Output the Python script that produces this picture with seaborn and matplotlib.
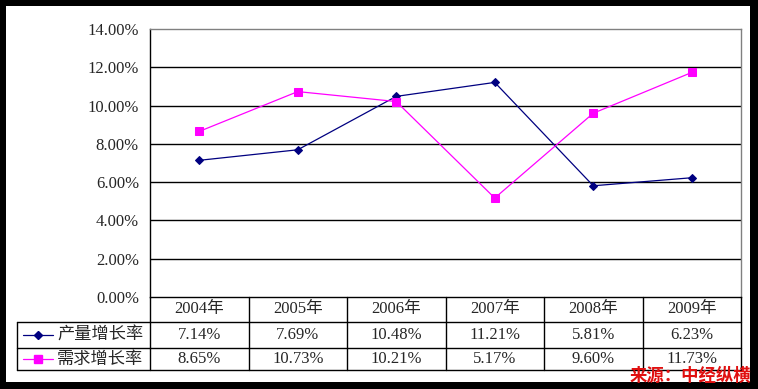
import pandas as pd
import matplotlib.pyplot as plt
import seaborn as sns
from matplotlib.patches import Rectangle
from matplotlib.ticker import FuncFormatter

sns.set_style("white")
plt.rcParams['font.family'] = ['Liberation Serif', 'Noto Sans CJK SC', 'DejaVu Sans']

# -------------------------------
# data
# -------------------------------
years = ["2004年", "2005年", "2006年", "2007年", "2008年", "2009年"]
series_names = ["产量增长率", "需求增长率"]
output_growth = [7.14, 7.69, 10.48, 11.21, 5.81, 6.23]
demand_growth = [8.65, 10.73, 10.21, 5.17, 9.60, 11.73]
colors = {"产量增长率": "#000080", "需求增长率": "#FF00FF"}

df = pd.DataFrame({
    "pos": list(range(len(years))) * 2,
    "value": output_growth + demand_growth,
    "series": [series_names[0]] * len(years) + [series_names[1]] * len(years),
})

W, H = 758, 389
fig = plt.figure(figsize=(W / 100, H / 100), dpi=100)
fig.patch.set_facecolor("black")
fig.add_artist(Rectangle((6 / W, 1 - 382 / H), (750 - 6) / W, (382 - 6) / H,
                         transform=fig.transFigure, facecolor="white",
                         edgecolor="none", zorder=-10))

# plot area in pixels
pl, pr, pt, pb = 150, 741, 29, 297
ax = fig.add_axes([pl / W, 1 - pb / H, (pr - pl) / W, (pb - pt) / H])
ax.set_facecolor("white")

for name, mk, ms in [(series_names[0], "D", 4.5), (series_names[1], "s", 6)]:
    sub = df[df["series"] == name]
    sns.lineplot(data=sub, x="pos", y="value", ax=ax, color=colors[name],
                 marker=mk, markersize=ms, markeredgecolor=colors[name],
                 linewidth=0.9, legend=False)

ax.set_xlim(-0.5, len(years) - 0.5)
ax.set_ylim(0, 14)
ax.set_yticks(range(0, 15, 2))
ax.yaxis.set_major_formatter(FuncFormatter(lambda v, p: f"{v:.2f}%"))
ax.set_xticks([])
ax.set_xlabel("")
ax.set_ylabel("")
ax.tick_params(axis="y", length=0, pad=8, labelsize=12)
for v in range(2, 14, 2):
    ax.axhline(v, color="black", linewidth=1, zorder=0)
for s in ["top", "right"]:
    ax.spines[s].set_color("#808080")
for s in ["left", "bottom"]:
    ax.spines[s].set_color("black")
for s in ax.spines.values():
    s.set_linewidth(1)

# -------------------------------
# data table
# -------------------------------
tt, tb = 297, 370
tab = fig.add_axes([pl / W, 1 - tb / H, (pr - pl) / W, (tb - tt) / H])
tab.set_xlim(-0.5, len(years) - 0.5)
tab.set_ylim(tb, tt)
tab.axis("off")
colw = (pr - pl) / len(years)


def px2x(px):
    return -0.5 + (px - pl) / colw


r1, r2 = 322, 348
xl = px2x(17)
for k in range(len(years) + 1):
    tab.plot([k - 0.5, k - 0.5], [tt, tb], color="black", lw=1, clip_on=False)
tab.plot([xl, xl], [r1, tb], color="black", lw=1, clip_on=False)
for y in [r1, r2, tb]:
    tab.plot([xl, len(years) - 0.5], [y, y], color="black", lw=1, clip_on=False)

for i, yr in enumerate(years):
    tab.text(i, (tt + r1) / 2, yr, ha="center", va="center", fontsize=12)
    tab.text(i, (r1 + r2) / 2, f"{output_growth[i]:.2f}%", ha="center", va="center", fontsize=12)
    tab.text(i, (r2 + tb) / 2, f"{demand_growth[i]:.2f}%", ha="center", va="center", fontsize=12)

for name, y, mk, ms in [(series_names[0], (r1 + r2) / 2, "D", 4.5),
                        (series_names[1], (r2 + tb) / 2, "s", 6)]:
    tab.plot([px2x(23), px2x(53)], [y, y], color=colors[name], lw=0.9, clip_on=False)
    tab.plot([px2x(38)], [y], marker=mk, markersize=ms, color=colors[name], clip_on=False)
    tab.text(px2x(57), y, name, ha="left", va="center", fontsize=12.4,
             family=["Noto Sans CJK SC"])

fig.text(751 / W, 1 - 376 / H, "来源：中经纵横", ha="right", va="center",
         color="#E01010", fontsize=12.5, fontweight="bold",
         family=["Noto Sans CJK SC"])

fig.savefig("out.png", dpi=100, facecolor=fig.get_facecolor())
